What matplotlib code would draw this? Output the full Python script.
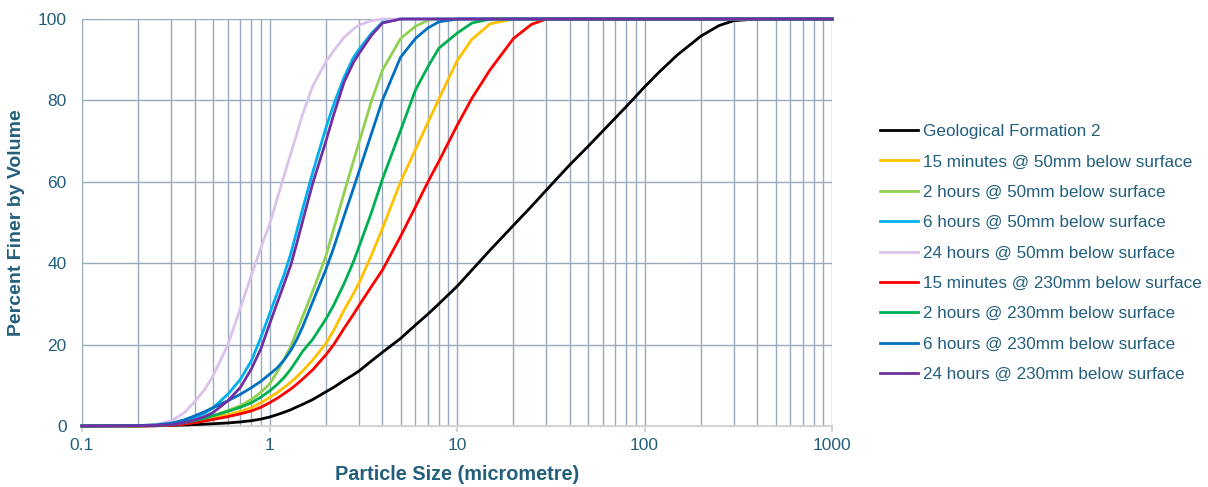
import matplotlib
matplotlib.use('Agg')
import matplotlib.pyplot as plt
from matplotlib.ticker import LogLocator, NullFormatter, FixedLocator, FixedFormatter

plt.rcParams['font.family'] = ['Liberation Sans', 'DejaVu Sans']

# particle size (micrometre) at which every curve was read
sizes = [0.1, 0.2, 0.25, 0.3, 0.35, 0.4, 0.45, 0.5, 0.6, 0.7,
         0.8, 0.9, 1.0, 1.1, 1.2, 1.3, 1.4, 1.5, 1.7, 2,
         2.2, 2.5, 2.8, 3, 3.5, 4, 5, 6, 7, 8,
         10, 12, 15, 20, 25, 30, 40, 50, 60, 80,
         100, 120, 150, 200, 250, 300, 400, 1000]

# percent finer by volume
geo_formation = [0, 0, 0.05, 0.15, 0.25, 0.35, 0.45, 0.55, 0.75, 1.0,
                 1.3, 1.7, 2.2, 2.8, 3.4, 4.0, 4.7, 5.3, 6.5, 8.4,
                 9.5, 11.2, 12.6, 13.5, 16, 18.1, 21.5, 24.8, 27.5, 30,
                 34.3, 38.3, 43.2, 49.3, 54, 58, 64.2, 68.7, 72.5, 78.5,
                 83.3, 87, 91.2, 95.8, 98.4, 99.6, 100, 100]
min15_50 = [0, 0.03, 0.1, 0.25, 0.55, 1, 1.5, 2, 2.8, 3.6,
            4.5, 5.7, 7, 8.2, 9.5, 10.8, 12.1, 13.5, 16.2, 20.3,
            23.5, 28.5, 32.5, 35.1, 42, 48.5, 60, 67.9, 74.6, 80.3,
            89.7, 95, 98.8, 100, 100, 100, 100, 100, 100, 100,
            100, 100, 100, 100, 100, 100, 100, 100]
hr2_50 = [0, 0.05, 0.15, 0.3, 0.7, 1.2, 1.8, 2.5, 3.8, 5,
          6.5, 8.3, 10.3, 13.3, 16.5, 19.6, 23.4, 26.8, 33.1, 41.8,
          48.4, 57.3, 65, 69.6, 79.9, 87.4, 95.2, 98.2, 99.7, 100,
          100, 100, 100, 100, 100, 100, 100, 100, 100, 100,
          100, 100, 100, 100, 100, 100, 100, 100]
hr6_50 = [0, 0.1, 0.2, 0.5, 1.1, 2, 3.1, 4.5, 7.8, 11.5,
          16, 21.8, 27.5, 32.7, 37.4, 42.4, 48, 53.2, 62.3, 73.3,
          79, 85.7, 90.5, 92.5, 96.5, 99.2, 100, 100, 100, 100,
          100, 100, 100, 100, 100, 100, 100, 100, 100, 100,
          100, 100, 100, 100, 100, 100, 100, 100]
hr24_50 = [0, 0.1, 0.4, 1.3, 3.2, 6, 8.9, 12.3, 20, 29,
           37, 43.8, 49.5, 55.9, 61.7, 67, 71.9, 76.5, 83.5, 89.5,
           92.2, 95.5, 97.5, 98.5, 99.6, 100, 100, 100, 100, 100,
           100, 100, 100, 100, 100, 100, 100, 100, 100, 100,
           100, 100, 100, 100, 100, 100, 100, 100]
min15_230 = [0, 0.03, 0.08, 0.2, 0.45, 0.8, 1.2, 1.6, 2.3, 3,
             3.7, 4.6, 5.7, 6.8, 8, 9.1, 10.3, 11.5, 13.8, 17.5,
             20, 24, 27.4, 29.6, 34.3, 38.3, 46.6, 53.8, 60, 65,
             73.8, 80.5, 87.5, 95.2, 98.7, 100, 100, 100, 100, 100,
             100, 100, 100, 100, 100, 100, 100, 100]
hr2_230 = [0, 0.05, 0.15, 0.35, 0.8, 1.3, 1.9, 2.5, 3.6, 4.6,
           5.7, 7.1, 8.6, 10.2, 12, 14, 16.2, 18.3, 21.3, 26.3,
           29.7, 35, 40.3, 44, 52.5, 60.6, 72.6, 82.5, 88.3, 92.8,
           96.5, 99, 100, 100, 100, 100, 100, 100, 100, 100,
           100, 100, 100, 100, 100, 100, 100, 100]
hr6_230 = [0, 0.1, 0.3, 0.7, 1.5, 2.5, 3.5, 4.5, 6.2, 7.8,
           9.4, 11, 12.7, 14.3, 16.3, 18.6, 21.3, 24.3, 30.5, 38.5,
           43.8, 51.6, 58.3, 62.5, 71.9, 80, 90.6, 95.2, 97.8, 99.3,
           100, 100, 100, 100, 100, 100, 100, 100, 100, 100,
           100, 100, 100, 100, 100, 100, 100, 100]
hr24_230 = [0, 0.05, 0.15, 0.3, 0.8, 1.5, 2.3, 3.3, 6.2, 9.5,
            14, 19, 25, 30.3, 35.1, 39.6, 45, 50.2, 59.6, 70,
            76.5, 84.5, 89.3, 91.5, 96, 99, 100, 100, 100, 100,
            100, 100, 100, 100, 100, 100, 100, 100, 100, 100,
            100, 100, 100, 100, 100, 100, 100, 100]

series = [
    ('Geological Formation 2', geo_formation, '#000000'),
    ('15 minutes @ 50mm below surface', min15_50, '#ffc000'),
    ('2 hours @ 50mm below surface', hr2_50, '#92d050'),
    ('6 hours @ 50mm below surface', hr6_50, '#00b0f0'),
    ('24 hours @ 50mm below surface', hr24_50, '#d9c3ea'),
    ('15 minutes @ 230mm below surface', min15_230, '#ff0000'),
    ('2 hours @ 230mm below surface', hr2_230, '#00b050'),
    ('6 hours @ 230mm below surface', hr6_230, '#0070c0'),
    ('24 hours @ 230mm below surface', hr24_230, '#7030a0'),
]

text_col = '#235f7d'
grid_col = '#9aa9bc'

fig = plt.figure(figsize=(12.08, 4.87), dpi=100)
ax = fig.add_axes([82/1208, 1-426/487, 750/1208, 407/487])

for name, vals, col in series:
    ax.plot(sizes, vals, color=col, lw=2, label=name, clip_on=False, zorder=3,
            solid_joinstyle='round')

ax.set_xscale('log')
ax.set_xlim(0.1, 1000)
ax.set_ylim(0, 100)

ax.xaxis.set_major_locator(FixedLocator([0.1, 1, 10, 100, 1000]))
ax.xaxis.set_major_formatter(FixedFormatter(['0.1', '1', '10', '100', '1000']))
ax.xaxis.set_minor_locator(LogLocator(base=10, subs=range(2, 10)))
ax.xaxis.set_minor_formatter(NullFormatter())
ax.set_yticks([0, 20, 40, 60, 80, 100])

ax.grid(True, which='both', axis='x', color=grid_col, lw=1)
ax.grid(True, which='major', axis='y', color=grid_col, lw=1)
ax.set_axisbelow(True)

for s in ['top', 'right', 'left']:
    ax.spines[s].set_visible(False)
ax.spines['bottom'].set_color('#d4d4d4')
ax.spines['bottom'].set_linewidth(1.5)
ax.spines['bottom'].set_zorder(2)

ax.tick_params(axis='x', which='major', length=4, color='#d4d4d4', width=1.5,
               labelsize=12.5, labelcolor=text_col, pad=5)
ax.tick_params(axis='x', which='minor', length=0)
ax.tick_params(axis='y', length=0, labelsize=12.5, labelcolor=text_col, pad=11)

ax.set_xlabel('Particle Size (micrometre)', fontsize=14.3, fontweight='bold', color=text_col, labelpad=8)
ax.set_ylabel('Percent Finer by Volume', fontsize=14, fontweight='bold', color=text_col, labelpad=9)

fig.legend(loc='center left', bbox_to_anchor=(880/1208, 1-253/487), frameon=False,
           fontsize=12.3, labelcolor=text_col, handlelength=2.25, handletextpad=0.25,
           labelspacing=0.9, borderpad=0, borderaxespad=0)

fig.savefig('out.png', dpi=100)
